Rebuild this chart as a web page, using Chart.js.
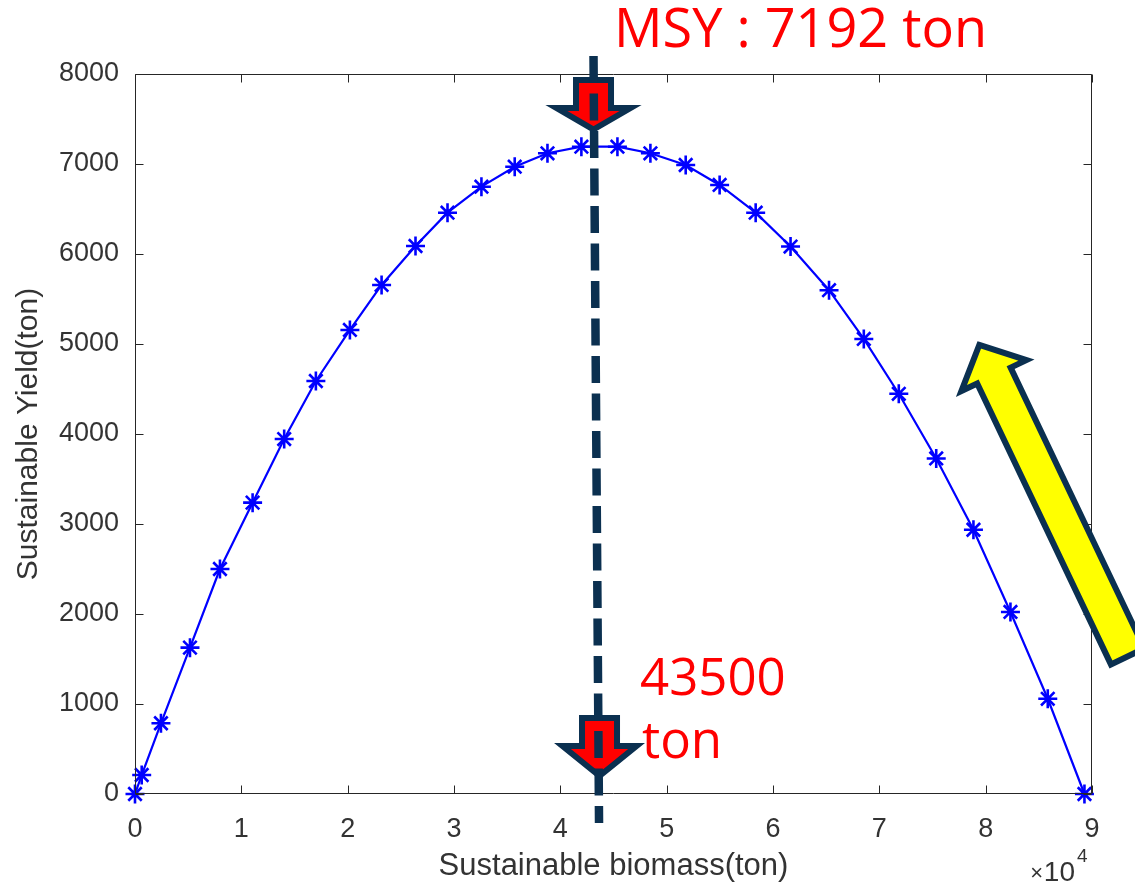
<!DOCTYPE html>
<html><head><meta charset="utf-8">
<script src="https://cdn.jsdelivr.net/npm/chart.js@4.4.1/dist/chart.umd.min.js"></script>
<style>html,body{margin:0;padding:0;background:#fff}#wrap{width:1135px;height:885px;position:relative}</style>
</head><body><div id="wrap"><canvas id="c"></canvas></div>
<script>
// ---- data ----
const biomass = [0, 630, 2440, 5170, 7990, 11060, 14030, 17010, 20210, 23190, 26380, 29390, 32580, 35710, 38790, 41980, 45370, 48470, 51790, 54980, 58370, 61650, 65270, 68540, 71830, 75350, 78850, 82330, 85840, 89290];
const yieldTon = [0, 211, 786, 1626, 2500, 3237, 3944, 4589, 5156, 5656, 6089, 6459, 6748, 6970, 7119, 7192, 7192, 7119, 6989, 6767, 6459, 6083, 5598, 5056, 4447, 3728, 2936, 2023, 1058, 0];
const xTicks = [0, 10000, 20000, 30000, 40000, 50000, 60000, 70000, 80000, 90000];
const yTicks = [0, 1000, 2000, 3000, 4000, 5000, 6000, 7000, 8000];
const xAxisTitle = 'Sustainable biomass(ton)';
const yAxisTitle = 'Sustainable Yield(ton)';
const xExponent = '4';
// annotations (data units)
const msyLabel = 'MSY : 7192 ton';
const msyLabelPos = [45050, 8300];
const bmsyLabel = ['43500', 'ton'];
const bmsyLabelX = [47490, 47680];
const bmsyLabelY = [1100, 400];
const msyLineX = [43120, 43640];
const msyLineY = [8200, -322];
const topArrowTip = [43120, 7383];
const bottomArrowTip = [43685, 200];
const yellowArrowTip = [79400, 4990];

const pts = biomass.map((b, i) => ({x: b, y: yieldTon[i]}));

const NAVY = '#0b3050';
const TXT = '#333333';

function downArrow(ctx, cx, tipY, headH, totalH, wingHalf, shaftHalf) {
  ctx.beginPath();
  ctx.moveTo(cx, tipY);
  ctx.lineTo(cx + wingHalf, tipY - headH);
  ctx.lineTo(cx + shaftHalf, tipY - headH);
  ctx.lineTo(cx + shaftHalf, tipY - totalH);
  ctx.lineTo(cx - shaftHalf, tipY - totalH);
  ctx.lineTo(cx - shaftHalf, tipY - headH);
  ctx.lineTo(cx - wingHalf, tipY - headH);
  ctx.closePath();
  ctx.fillStyle = '#ff0000';
  ctx.fill();
  ctx.lineJoin = 'miter';
  ctx.lineWidth = 6;
  ctx.strokeStyle = NAVY;
  ctx.stroke();
}

const annot = {
  id: 'annot',
  afterDatasetsDraw(chart) {
    const ctx = chart.ctx, xs = chart.scales.x, ys = chart.scales.y, a = chart.chartArea;
    const X = v => xs.getPixelForValue(v), Y = v => ys.getPixelForValue(v);
    ctx.save();
    // axes box and inward ticks (MATLAB style)
    ctx.strokeStyle = '#262626';
    ctx.lineWidth = 1;
    const L = Math.round(a.left) + 0.5, R = Math.round(a.right) - 0.5, T = Math.round(a.top) + 0.5, B = Math.round(a.bottom) - 0.5;
    ctx.beginPath();
    ctx.rect(L, T, R - L, B - T);
    const tl = 8;
    xTicks.forEach(v => { const p = Math.round(X(v)) + 0.5; ctx.moveTo(p, B); ctx.lineTo(p, B - tl); ctx.moveTo(p, T); ctx.lineTo(p, T + tl); });
    yTicks.forEach(v => { const p = Math.round(Y(v)) + 0.5; ctx.moveTo(L, p); ctx.lineTo(L + tl, p); ctx.moveTo(R, p); ctx.lineTo(R - tl, p); });
    ctx.stroke();

    // x10^4 multiplier
    ctx.fillStyle = TXT;
    ctx.textBaseline = 'alphabetic';
    ctx.textAlign = 'right';
    ctx.font = '28px "Liberation Sans", Arial, sans-serif';
    ctx.fillText('10', a.right - 17, 881);
    ctx.font = '22px "Liberation Sans", Arial, sans-serif';
    ctx.fillText('\u00d7', a.right - 49, 880);
    ctx.textAlign = 'left';
    ctx.font = '19px "Liberation Sans", Arial, sans-serif';
    ctx.fillText(xExponent, a.right - 15, 862);

    // red arrows
    downArrow(ctx, X(topArrowTip[0]), Y(topArrowTip[1]), 21.5, 49.5, 37, 17.5);
    downArrow(ctx, X(bottomArrowTip[0]), Y(bottomArrowTip[1]), 30, 58, 37, 17.5);

    // dashed MSY line
    ctx.beginPath();
    ctx.setLineDash([27, 10.5]);
    ctx.lineDashOffset = 0;
    ctx.lineCap = 'butt';
    ctx.lineWidth = 8.5;
    ctx.strokeStyle = NAVY;
    ctx.moveTo(X(msyLineX[0]), Y(msyLineY[0]));
    ctx.lineTo(X(msyLineX[1]), Y(msyLineY[1]));
    ctx.stroke();
    ctx.setLineDash([]);

    // yellow arrow
    const tx = X(yellowArrowTip[0]), ty = Y(yellowArrowTip[1]);
    const d = [0.43, 0.903], n = [0.903, -0.43];
    const P = (u, v) => [tx + u * d[0] + v * n[0], ty + u * d[1] + v * n[1]];
    const shape = [[0, 0], [34, 36], [34, 18.5], [345, 18.5], [345, -18.5], [34, -18.5], [34, -36]];
    ctx.beginPath();
    shape.forEach((s, i) => { const p = P(s[0], s[1]); if (i) ctx.lineTo(p[0], p[1]); else ctx.moveTo(p[0], p[1]); });
    ctx.closePath();
    ctx.fillStyle = '#ffff00';
    ctx.fill();
    ctx.lineJoin = 'miter';
    ctx.lineWidth = 6;
    ctx.strokeStyle = NAVY;
    ctx.stroke();

    // red labels
    ctx.fillStyle = '#ff0000';
    ctx.textAlign = 'left';
    ctx.textBaseline = 'alphabetic';
    ctx.font = '54px "Open Sans", "Noto Sans CJK KR", sans-serif';
    ctx.fillText(msyLabel, X(msyLabelPos[0]), Y(msyLabelPos[1]));
    ctx.font = '51px "Open Sans", "Noto Sans CJK KR", sans-serif';
    bmsyLabel.forEach((t, i) => ctx.fillText(t, X(bmsyLabelX[i]), Y(bmsyLabelY[i])));
    ctx.restore();
  }
};

new Chart(document.getElementById('c'), {
  type: 'scatter',
  data: {
    datasets: [{
      data: pts,
      showLine: true,
      borderColor: '#0000ff',
      backgroundColor: '#0000ff',
      borderWidth: 2.2,
      tension: 0,
      pointStyle: 'star',
      pointRadius: 9.5,
      pointBorderWidth: 2.6,
      pointBorderColor: '#0000ff',
      clip: false
    }]
  },
  options: {
    responsive: true,
    maintainAspectRatio: false,
    animation: false,
    events: [],
    layout: {padding: {top: 74, right: 43, left: 0, bottom: 0}},
    plugins: {legend: {display: false}, tooltip: {enabled: false}},
    scales: {
      x: {
        type: 'linear', min: 0, max: 90000,
        afterFit: s => { s.height = 91; },
        afterBuildTicks: s => { s.ticks = xTicks.map(v => ({value: v})); },
        grid: {display: false, drawTicks: false},
        border: {display: false},
        ticks: {
          color: TXT, padding: 19,
          font: {family: '"Liberation Sans", Arial, sans-serif', size: 27},
          callback: v => String(v / 10000)
        },
        title: {display: true, text: xAxisTitle, color: TXT, padding: {top: 0, bottom: 0},
          font: {family: '"Liberation Sans", Arial, sans-serif', size: 31}}
      },
      y: {
        type: 'linear', min: 0, max: 8000,
        afterFit: s => { s.width = 135; },
        afterBuildTicks: s => { s.ticks = yTicks.map(v => ({value: v})); },
        grid: {display: false, drawTicks: false},
        border: {display: false},
        ticks: {
          color: TXT, padding: 16,
          font: {family: '"Liberation Sans", Arial, sans-serif', size: 27},
          callback: v => String(v)
        },
        title: {display: true, text: yAxisTitle, color: TXT, padding: {top: 11, bottom: 0},
          font: {family: '"Liberation Sans", Arial, sans-serif', size: 30}}
      }
    }
  },
  plugins: [annot]
});
</script>
</body></html>
